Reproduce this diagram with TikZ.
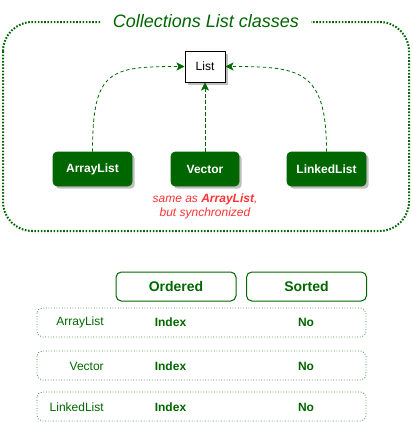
\documentclass[tikz,border=0pt]{standalone}
\usepackage{fontspec}
\setmainfont{Liberation Sans}
\usetikzlibrary{shadows,arrows.meta}
\definecolor{dg}{HTML}{006600}
\definecolor{rd}{HTML}{FF3333}
\tikzset{
  px/.style={x=0.75pt,y=-0.75pt},
  cls/.style={draw=dg,fill=dg,rounded corners=3pt,text=white,font=\bfseries\fontsize{9}{11}\selectfont,
    minimum height=25.5pt,inner sep=0pt,drop shadow={shadow xshift=2pt,shadow yshift=-2pt,fill=black,opacity=0.25}},
  inh/.style={draw=dg,dash pattern=on 2.5pt off 2pt,line width=0.6pt,-{Stealth[length=6pt,width=6pt,inset=1.5pt]}},
  hdr/.style={draw=dg,rounded corners=4pt,line width=0.75pt,minimum width=90pt,minimum height=21.75pt,inner sep=0pt,
    text=dg,font=\bfseries\fontsize{10.5}{12}\selectfont},
  rowbox/.style={draw=dg!80,dash pattern=on 0.6pt off 1.4pt,rounded corners=4pt,line width=0.6pt},
  rname/.style={anchor=east,text=dg,font=\fontsize{9}{11}\selectfont,inner sep=0pt},
  rval/.style={text=dg,font=\bfseries\fontsize{9}{11}\selectfont,inner sep=0pt},
}
\begin{document}
\begin{tikzpicture}[px]
\useasboundingbox (0,0) rectangle (412,422);
% outer container
\draw[dg,line width=1.5pt,dash pattern=on 1.2pt off 1.2pt,rounded corners=22pt] (3,22) rectangle (409,231);
\node[fill=white,inner xsep=9pt,inner ysep=2pt,text=dg,font=\itshape\fontsize{13.5}{15}\selectfont] (title) at (206,21) {Collections List classes};
% list interface
\node[draw=black,fill=white,line width=0.75pt,minimum width=30pt,minimum height=23.25pt,inner sep=0pt,
  font=\fontsize{9}{11}\selectfont,drop shadow={shadow xshift=2pt,shadow yshift=-2pt,fill=black,opacity=0.25}] (list) at (205,66.5) {List};
\node[cls,minimum width=59.25pt] (al) at (92.5,169) {ArrayList};
\node[cls,minimum width=51pt] (vec) at (205,169) {Vector};
\node[cls,minimum width=59.25pt] (ll) at (326.5,169) {LinkedList};
\draw[inh] (al.north) .. controls +(0,-82) and +(-75,0) .. (list.west);
\draw[inh] (vec.north) -- (list.south);
\draw[inh] (ll.north) .. controls +(0,-82) and +(75,0) .. (list.east);
\node[text=rd,font=\itshape\fontsize{9}{11}\selectfont,align=center,inner sep=0pt] (note) at (205,206.5)
  {same as \textbf{ArrayList},\\but synchronized};
% table
\node[hdr] (ord) at (176,286.5) {Ordered};
\node[hdr] (srt) at (306.5,286.5) {Sorted};
\draw[rowbox] (37,308) rectangle (366,337);
\draw[rowbox] (37,351) rectangle (366,380);
\draw[rowbox] (37,392) rectangle (366,421);
\node[rname] (n1) at (104,322.5) {ArrayList};
\node[rname] (n2) at (104,366) {Vector};
\node[rname] (n3) at (104,407) {LinkedList};
\node[rval] (i1) at (170.5,322.5) {Index};
\node[rval] (i2) at (170.5,366) {Index};
\node[rval] (i3) at (170.5,407) {Index};
\node[rval] (s1) at (306,322.5) {No};
\node[rval] (s2) at (306,366) {No};
\node[rval] (s3) at (306,407) {No};
\end{tikzpicture}
\end{document}
